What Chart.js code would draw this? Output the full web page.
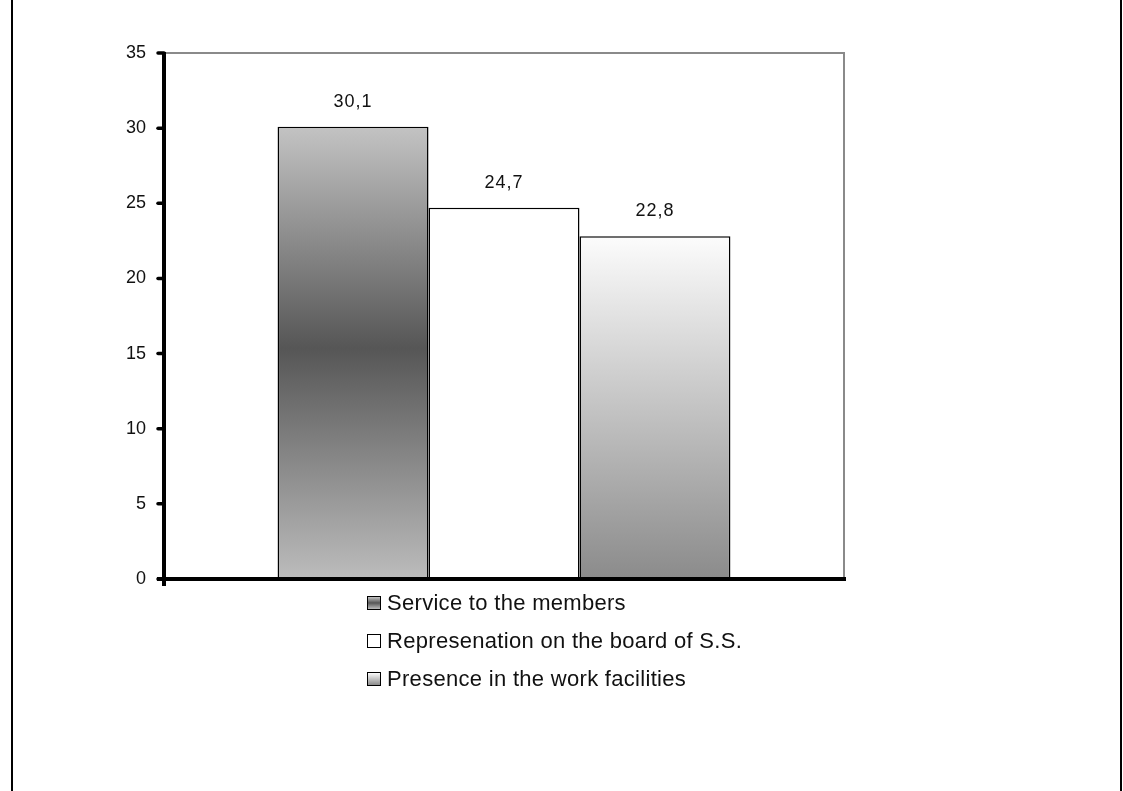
<!DOCTYPE html>
<html>
<head>
<meta charset="utf-8">
<title>Bar chart</title>
<script src="https://cdn.jsdelivr.net/npm/chart.js@4/dist/chart.umd.min.js"></script>
<style>
  html, body { margin: 0; padding: 0; background: #ffffff; }
  #wrap { position: relative; width: 1123px; height: 791px; overflow: hidden; font-family: Arial, "Liberation Sans", sans-serif; }
  #chart { position: absolute; left: 0; top: 0; }
  .edge { position: absolute; top: 0; width: 2px; height: 791px; background: #000; }
  #legend { position: absolute; left: 367px; top: 584px; }
  .row { display: flex; align-items: center; height: 38px; font-size: 22px; color: #111; letter-spacing: 0.3px; }
  .sw { width: 14px; height: 14px; border: 1px solid #000; box-sizing: border-box; margin-right: 6px; }
</style>
</head>
<body>
<div id="wrap">
  <canvas id="chart" width="1123" height="791"></canvas>
  <div class="edge" style="left:11px"></div>
  <div class="edge" style="left:1120px"></div>
  <div id="legend"></div>
</div>
<script>
// Categories and values
const categories = [''];
const seriesNames = [
  'Service to the members',
  'Represenation on the board of S.S.',
  'Presence in the work facilities'
];
const seriesValues = [30.1, 24.7, 22.8];
const yTicks = [0, 5, 10, 15, 20, 25, 30, 35];

// Gradient stops per series (offset, colour)
const seriesFills = [
  [[0, '#c3c3c3'], [0.49, '#565656'], [1, '#bcbcbc']],
  [[0, '#ffffff'], [1, '#ffffff']],
  [[0, '#fcfcfc'], [1, '#8b8b8b']]
];

function barFill(i) {
  return function (ctx) {
    const chart = ctx.chart;
    const area = chart.chartArea;
    const yScale = chart.scales.y;
    if (!area || !yScale) return seriesFills[i][0][1];
    const top = yScale.getPixelForValue(seriesValues[i]);
    const bottom = yScale.getPixelForValue(0);
    const g = chart.ctx.createLinearGradient(0, top, 0, bottom);
    seriesFills[i].forEach(s => g.addColorStop(s[0], s[1]));
    return g;
  };
}

const datasets = seriesNames.map((name, i) => ({
  label: name,
  data: [seriesValues[i]],
  backgroundColor: barFill(i),
  borderColor: '#000000',
  borderWidth: 1.5,
  borderSkipped: false,
  categoryPercentage: 0.666,
  barPercentage: 1.0
}));

// Frame, axes and tick dots
const framePlugin = {
  id: 'frame',
  afterDatasetsDraw(chart) {
    const { ctx, chartArea: a, scales } = chart;
    ctx.save();
    ctx.strokeStyle = '#8a8a8a';
    ctx.lineWidth = 2;
    ctx.beginPath();
    ctx.moveTo(a.left, a.top);
    ctx.lineTo(a.right, a.top);
    ctx.lineTo(a.right, a.bottom);
    ctx.stroke();

    ctx.strokeStyle = '#000000';
    ctx.lineWidth = 4;
    ctx.lineCap = 'butt';
    ctx.beginPath();
    ctx.moveTo(a.left, a.top - 1);
    ctx.lineTo(a.left, a.bottom + 7);
    ctx.moveTo(a.left - 7, a.bottom);
    ctx.lineTo(a.right + 2, a.bottom);
    ctx.stroke();

    ctx.lineWidth = 3.5;
    ctx.lineCap = 'round';
    yTicks.forEach(v => {
      const y = scales.y.getPixelForValue(v);
      ctx.beginPath();
      ctx.moveTo(a.left - 6, y);
      ctx.lineTo(a.left, y);
      ctx.stroke();
    });
    ctx.restore();
  }
};

// Value labels above the bars
const valueLabels = {
  id: 'valueLabels',
  afterDatasetsDraw(chart) {
    const ctx = chart.ctx;
    ctx.save();
    ctx.font = '18px Arial, "Liberation Sans", sans-serif';
    ctx.fillStyle = '#111111';
    ctx.textAlign = 'center';
    ctx.textBaseline = 'middle';
    if ('letterSpacing' in ctx) ctx.letterSpacing = '1px';
    chart.data.datasets.forEach((ds, i) => {
      const bar = chart.getDatasetMeta(i).data[0];
      const txt = String(ds.data[0]).replace('.', ',');
      ctx.fillText(txt, bar.x, bar.y - 25);
    });
    ctx.restore();
  }
};

new Chart(document.getElementById('chart'), {
  type: 'bar',
  data: { labels: categories, datasets },
  options: {
    responsive: false,
    devicePixelRatio: 1,
    animation: false,
    layout: { padding: { left: 104, right: 279, top: 53, bottom: 212 } },
    plugins: {
      legend: { display: false },
      tooltip: { enabled: false }
    },
    scales: {
      x: {
        ticks: { display: false },
        grid: { display: false },
        border: { display: false },
        afterFit(scale) { scale.height = 0; }
      },
      y: {
        min: 0,
        max: 35,
        afterBuildTicks(scale) { scale.ticks = yTicks.map(v => ({ value: v })); },
        ticks: {
          padding: 12,
          color: '#111111',
          font: { family: 'Arial, "Liberation Sans", sans-serif', size: 18 }
        },
        grid: { drawOnChartArea: false, tickLength: 6, color: 'rgba(0,0,0,0)' },
        border: { display: false },
        afterFit(scale) { scale.width = 60; }
      }
    }
  },
  plugins: [framePlugin, valueLabels]
});

// Legend rows
const legend = document.getElementById('legend');
seriesNames.forEach((name, i) => {
  const row = document.createElement('div');
  row.className = 'row';
  const sw = document.createElement('span');
  sw.className = 'sw';
  const stops = seriesFills[i].map(s => s[1] + ' ' + Math.round(s[0] * 100) + '%').join(', ');
  sw.style.background = 'linear-gradient(to bottom, ' + stops + ')';
  const label = document.createElement('span');
  label.textContent = name;
  row.appendChild(sw);
  row.appendChild(label);
  legend.appendChild(row);
});
</script>
</body>
</html>
